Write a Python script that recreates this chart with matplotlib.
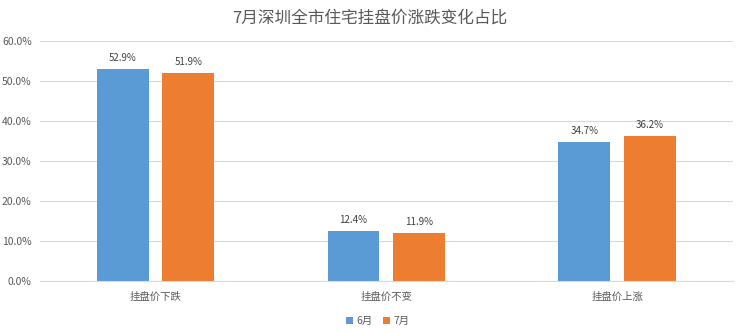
import numpy as np
import matplotlib.pyplot as plt
from matplotlib.ticker import PercentFormatter

plt.rcParams['font.family'] = ['Noto Sans CJK SC', 'DejaVu Sans']

categories = ['挂盘价下跌', '挂盘价不变', '挂盘价上涨']
june = [52.9, 12.4, 34.7]
july = [51.9, 11.9, 36.2]
series_names = ['6月', '7月']
colors = ['#5B9BD5', '#ED7D31']
title = '7月深圳全市住宅挂盘价涨跌变化占比'

fig = plt.figure(figsize=(7.4, 3.32), dpi=100)
ax = fig.add_axes([0.054, 0.1536, 0.936, 0.7229])

x = np.arange(len(categories))
w = 0.225
off = 0.142
for vals, dx, c, name in [(june, -off, colors[0], series_names[0]),
                          (july, off, colors[1], series_names[1])]:
    bars = ax.bar(x + dx, vals, w, color=c, label=name, zorder=2)
    for b, v in zip(bars, vals):
        ax.text(b.get_x() + b.get_width() / 2, v + 1.6, f'{v:.1f}%',
                ha='center', va='bottom', fontsize=7, color='#404040')

ax.set_xlim(-0.5, 2.5)
ax.set_ylim(0, 60)
ax.set_yticks(np.arange(0, 61, 10))
ax.yaxis.set_major_formatter(PercentFormatter(decimals=1))
ax.set_xticks(x)
ax.set_xticklabels(categories)
ax.grid(axis='y', color='#D9D9D9', linewidth=0.8, zorder=0)
for s in ['top', 'right', 'left']:
    ax.spines[s].set_visible(False)
ax.spines['bottom'].set_color('#D9D9D9')
ax.tick_params(axis='both', length=0, labelsize=7.5, colors='#595959')
ax.tick_params(axis='x', pad=8)
ax.tick_params(axis='y', pad=6)

fig.suptitle(title, y=0.97, fontsize=12, color='#595959')
fig.legend(loc='lower center', bbox_to_anchor=(0.51, -0.01), ncol=2,
           frameon=False, fontsize=7.5, handlelength=0.7, handleheight=0.7,
           columnspacing=1.0, handletextpad=0.3, labelcolor='#595959')

fig.savefig('out.png', dpi=100)
